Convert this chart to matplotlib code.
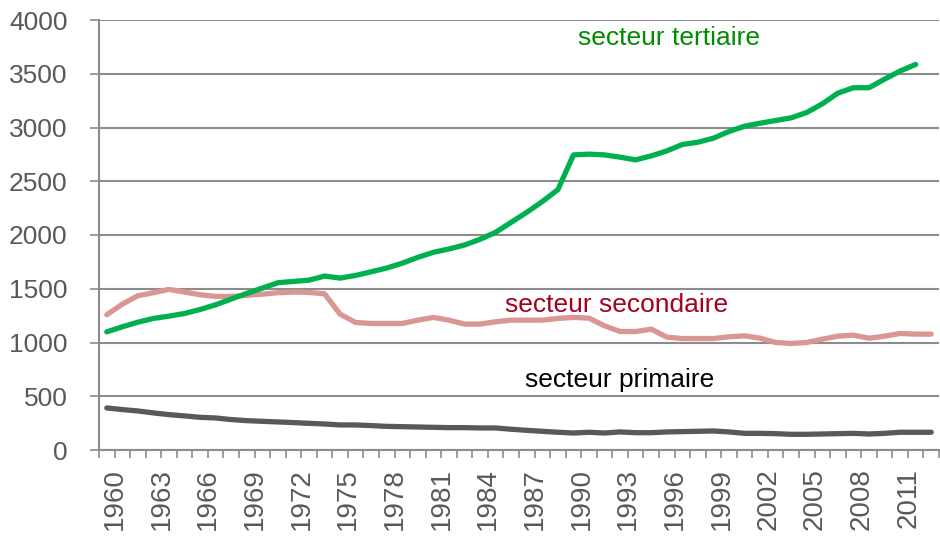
import matplotlib
matplotlib.use("Agg")
import matplotlib.pyplot as plt
import numpy as np

plt.rcParams['font.family'] = ['Liberation Sans', 'DejaVu Sans']

years = list(range(1960, 2014))

tertiaire = [1099, 1146, 1189, 1224, 1245, 1270, 1307, 1351, 1404, 1457,
             1506, 1556, 1568, 1580, 1618, 1599, 1624, 1658, 1693, 1738,
             1792, 1839, 1870, 1907, 1960, 2025, 2118, 2211, 2311, 2422,
             2745, 2752, 2745, 2724, 2699, 2736, 2782, 2842, 2863, 2901,
             2963, 3012, 3040, 3065, 3090, 3140, 3220, 3320, 3370, 3370,
             3450, 3525, 3587, None]

secondaire = [1258, 1357, 1435, 1463, 1494, 1469, 1444, 1429, 1429, 1438,
              1450, 1463, 1469, 1466, 1453, 1264, 1186, 1177, 1177, 1177,
              1208, 1233, 1208, 1171, 1171, 1193, 1208, 1208, 1208, 1224,
              1233, 1227, 1155, 1102, 1102, 1124, 1050, 1037, 1037, 1037,
              1053, 1062, 1040, 1000, 991, 1000, 1031, 1059, 1068, 1040,
              1059, 1084, 1078, 1078]

primaire = [391, 376, 363, 345, 329, 317, 304, 298, 283, 273,
            267, 261, 255, 248, 242, 233, 233, 227, 220, 217,
            214, 211, 208, 208, 205, 205, 193, 183, 174, 165,
            158, 165, 158, 168, 161, 161, 168, 171, 174, 177,
            168, 155, 155, 152, 146, 146, 149, 152, 155, 149,
            155, 165, 165, 165]

label_texts = ["secteur tertiaire", "secteur secondaire", "secteur primaire"]
label_colors = ['#008C00', '#A50021', '#000000']

fig = plt.figure(figsize=(9.4, 5.38), dpi=100)
ax = fig.add_axes([99/940, 1 - 450/538, 840/940, 430/538])

x = np.arange(len(years))
t = np.array([np.nan if v is None else v for v in tertiaire], dtype=float)
ax.plot(x, primaire, color='#595959', lw=3.8, solid_capstyle='round', zorder=3)
ax.plot(x, secondaire, color='#D99694', lw=3.8, solid_capstyle='round', zorder=3)
ax.plot(x, t, color='#00B050', lw=3.8, solid_capstyle='round', zorder=4)

ax.set_xlim(-0.5, len(years) - 0.5)
ax.set_ylim(0, 4000)
ax.set_yticks(range(0, 4001, 500))
ax.tick_params(axis='y', labelsize=19, colors='#8C8C8C', length=6.5, width=1.2,
               labelcolor='#595959', pad=16)
ax.yaxis.grid(True, color='#8C8C8C', lw=1.5)
ax.set_axisbelow(True)

ax.set_xticks(np.arange(-0.5, len(years), 1))
ax.set_xticklabels([])
ax.tick_params(axis='x', which='major', length=6, width=1.2, colors='#8C8C8C')
ax.set_xticks(x[::3] + 0.52, minor=True)
ax.set_xticklabels([str(y) for y in years[::3]], minor=True, rotation=90,
                   fontsize=20, color='#595959')
ax.tick_params(axis='x', which='minor', length=0, pad=13)

for s in ['top', 'right']:
    ax.spines[s].set_visible(False)
for s in ['left', 'bottom']:
    ax.spines[s].set_color('#8C8C8C')
    ax.spines[s].set_linewidth(1.5)

ax.text(36.13, 3772, label_texts[0], fontsize=19, color=label_colors[0],
        ha='center', va='baseline')
ax.text(32.79, 1287, label_texts[1], fontsize=19, color=label_colors[1],
        ha='center', va='baseline')
ax.text(32.98, 589, label_texts[2], fontsize=19, color=label_colors[2],
        ha='center', va='baseline')

fig.savefig('out.png', dpi=100)
